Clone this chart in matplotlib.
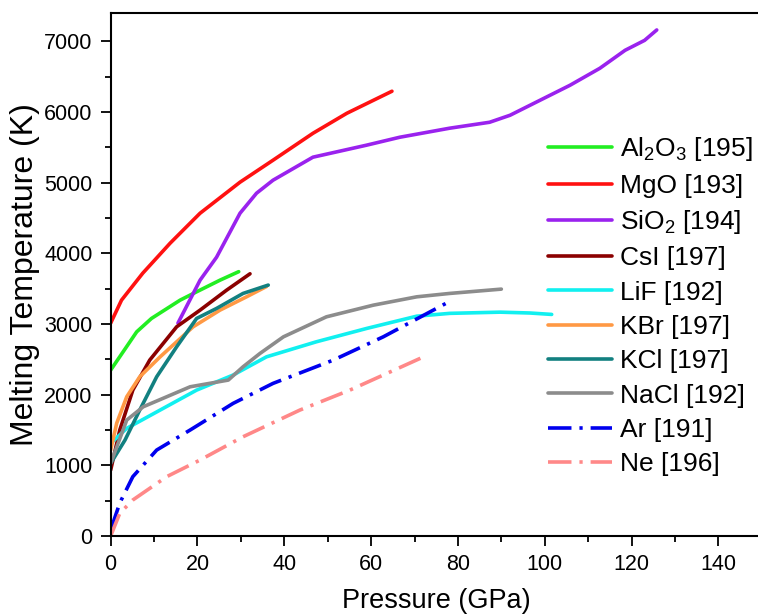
import matplotlib
matplotlib.use("Agg")
import matplotlib.pyplot as plt
from matplotlib.ticker import MultipleLocator

plt.rcParams.update({
    "font.family": ["Liberation Sans", "DejaVu Sans"],
    "mathtext.default": "regular",
    "font.size": 15,
})

# -------------------------------
# DATA
# -------------------------------
al2o3_p = [0, 6.0, 9.4, 16.0, 19.8, 25.2, 29.5]
al2o3_t = [2347, 2889, 3078, 3337, 3455, 3620, 3740]

mgo_p = [0, 2.5, 7.4, 13.7, 18.3, 20.6, 29.8, 37.4, 46.6, 54.4, 64.8]
mgo_t = [3012, 3337, 3719, 4143, 4426, 4567, 5006, 5317, 5698, 5981, 6293]

sio2_p = [15.5, 20.6, 24.4, 29.8, 33.6, 37.4, 46.6, 58.9, 66.6, 78.1, 87.3,
          92.0, 98.9, 105.8, 112.7, 118.5, 123.0, 125.8]
sio2_t = [3012, 3620, 3945, 4567, 4850, 5034, 5360, 5529, 5642, 5770, 5854,
          5953, 6165, 6377, 6618, 6872, 7013, 7160]

csi_p = [0, 2.1, 5.1, 9.0, 15.2, 20.6, 26.7, 32.1]
csi_t = [933, 1499, 2064, 2489, 2960, 3196, 3478, 3710]

lif_p = [0, 3.7, 11.4, 19.8, 28.2, 35.9, 47.4, 59.0, 70.5, 78.1, 89.7, 96.6, 101.6]
lif_t = [1310, 1523, 1782, 2064, 2277, 2535, 2748, 2937, 3110, 3150, 3167, 3155, 3135]

kbr_p = [0, 1.4, 3.7, 6.7, 11.4, 19.0, 25.2, 31.3, 35.9]
kbr_t = [1216, 1598, 1970, 2253, 2535, 2960, 3196, 3384, 3530]

kcl_p = [0, 3.3, 6.7, 10.6, 15.2, 19.8, 24.4, 30.5, 36.3]
kcl_t = [1028, 1357, 1782, 2253, 2677, 3078, 3220, 3432, 3550]

nacl_p = [0, 3.7, 7.5, 18.3, 27.1, 30.5, 34.4, 39.8, 49.7, 60.5, 70.5, 78.1, 90.0]
nacl_t = [1028, 1640, 1828, 2111, 2206, 2394, 2583, 2818, 3101, 3266, 3384, 3432, 3493]

ar_p = [0, 2.1, 5.1, 10.6, 18.3, 28.2, 37.4, 51.3, 62.8, 77.2]
ar_t = [85, 467, 839, 1216, 1499, 1876, 2159, 2489, 2818, 3290]

ne_p = [0, 2.1, 5.1, 12.9, 20.6, 30.5, 43.6, 55.1, 73.0]
ne_t = [0, 321, 509, 839, 1075, 1404, 1782, 2064, 2560]

labels = ["Al$_2$O$_3$ [195]", "MgO [193]", "SiO$_2$ [194]", "CsI [197]",
          "LiF [192]", "KBr [197]", "KCl [197]", "NaCl [192]", "Ar [191]", "Ne [196]"]

# -------------------------------
# PLOT
# -------------------------------
fig = plt.figure(figsize=(7.58, 6.16), dpi=100)
ax = fig.add_axes([0.1460, 0.1299, 0.8590, 0.8490])

lw = 2.6
dashdot = (0, (6.5, 2.2, 0.9, 2.2))
series = [
    (al2o3_p, al2o3_t, "#22ee22", "-"),
    (mgo_p, mgo_t, "#ff1111", "-"),
    (sio2_p, sio2_t, "#9a22ee", "-"),
    (csi_p, csi_t, "#8b0000", "-"),
    (lif_p, lif_t, "#11f0f0", "-"),
    (kbr_p, kbr_t, "#ff9944", "-"),
    (kcl_p, kcl_t, "#128080", "-"),
    (nacl_p, nacl_t, "#8c8c8c", "-"),
    (ar_p, ar_t, "#0000ee", dashdot),
    (ne_p, ne_t, "#ff8888", dashdot),
]
for (p, t, c, ls), lab in zip(series, labels):
    ax.plot(p, t, color=c, lw=lw, ls=ls, label=lab, solid_capstyle="round")

ax.set_xlim(0, 150)
ax.set_ylim(0, 7400)
ax.xaxis.set_major_locator(MultipleLocator(20))
ax.xaxis.set_minor_locator(MultipleLocator(10))
ax.yaxis.set_major_locator(MultipleLocator(1000))
ax.yaxis.set_minor_locator(MultipleLocator(500))
ax.tick_params(which="major", direction="out", length=7, width=1.3, labelsize=15.5, pad=6)
ax.tick_params(which="minor", direction="out", length=4, width=1.3)
for s in ax.spines.values():
    s.set_linewidth(1.5)

ax.set_xlabel("Pressure (GPa)", fontsize=19.5, labelpad=9)
ax.set_ylabel("Melting Temperature (K)", fontsize=23, labelpad=3)

ax.legend(loc="upper left", bbox_to_anchor=(0.655, 0.786), frameon=False,
          fontsize=19, handlelength=2.45, handletextpad=0.3, labelspacing=0.39,
          borderaxespad=0)

fig.savefig("out.png", dpi=100)
